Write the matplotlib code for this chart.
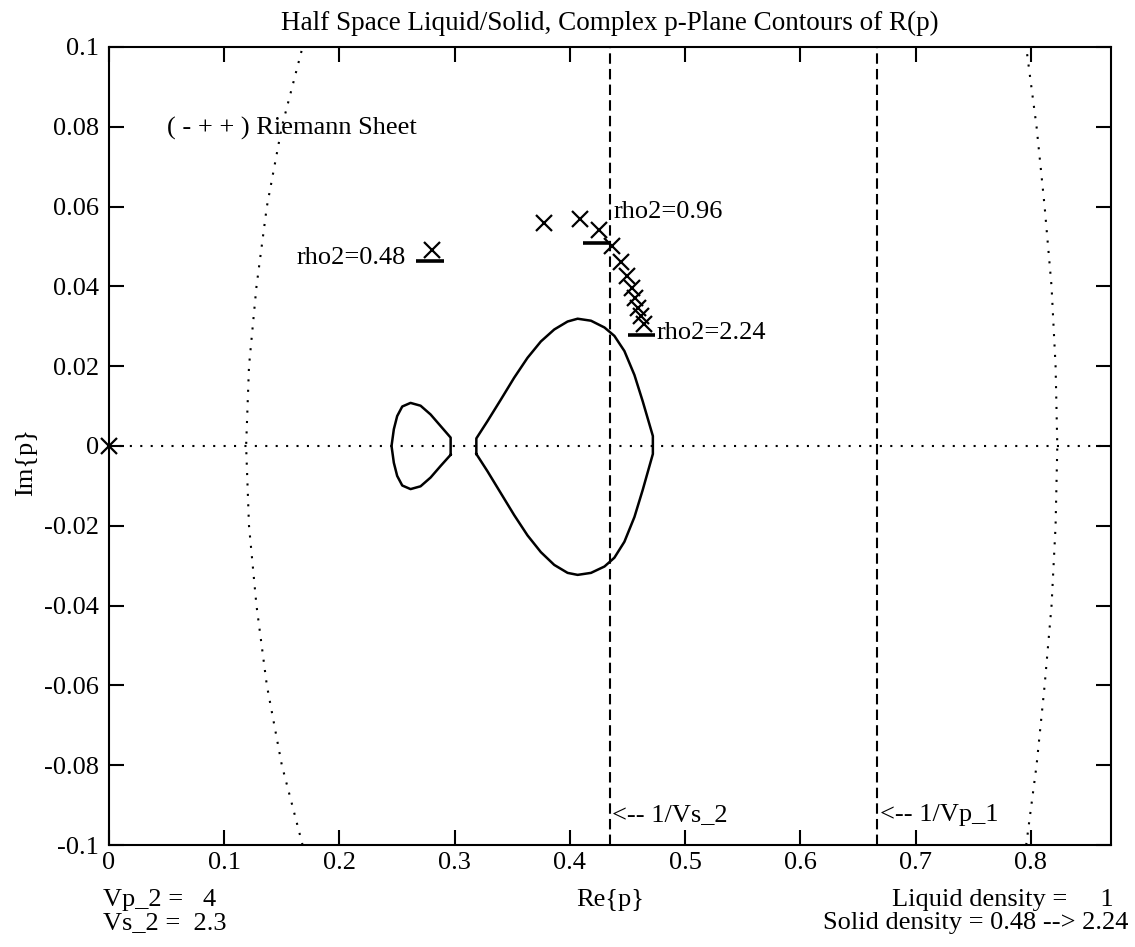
import matplotlib
matplotlib.use('Agg')
import matplotlib.pyplot as plt

# ---------------- data ----------------
xlim = [0.0, 0.8696]
ylim = [-0.1, 0.1]
xticks = [0, 0.1, 0.2, 0.3, 0.4, 0.5, 0.6, 0.7, 0.8]
xticklabels = ['0', '0.1', '0.2', '0.3', '0.4', '0.5', '0.6', '0.7', '0.8']
yticks = [-0.1, -0.08, -0.06, -0.04, -0.02, 0, 0.02, 0.04, 0.06, 0.08, 0.1]
yticklabels = ['-0.1', '-0.08', '-0.06', '-0.04', '-0.02', '0', '0.02', '0.04', '0.06', '0.08', '0.1']

inv_vs2 = 0.4348   # 1/Vs_2
inv_vp1 = 0.6667   # 1/Vp_1

# dotted branch-cut arcs
arc_y = [-0.1, -0.08, -0.06, -0.04, -0.02, 0.0, 0.02, 0.04, 0.06, 0.08, 0.1]
arc_left_x = [0.168, 0.150, 0.137, 0.128, 0.1215, 0.119, 0.1215, 0.128, 0.137, 0.150, 0.168]
arc_right_x = [0.796, 0.805, 0.812, 0.818, 0.8215, 0.823, 0.8215, 0.818, 0.812, 0.805, 0.796]

# small contour loop
small_x = [0.2965, 0.2965, 0.2878, 0.2791, 0.2704, 0.2617, 0.2545, 0.2501, 0.2472, 0.2452,
           0.2472, 0.2501, 0.2545, 0.2617, 0.2704, 0.2791, 0.2878, 0.2965]
small_y = [-0.0022, 0.0021, 0.0050, 0.0079, 0.0101, 0.0108, 0.0099, 0.0075, 0.0042, 0.0000,
           -0.0042, -0.0075, -0.0099, -0.0108, -0.0101, -0.0079, -0.0050, -0.0022]

# big contour loop
big_x = [0.3188, 0.3188, 0.3284, 0.3400, 0.3516, 0.3632, 0.3748, 0.3864, 0.3980, 0.4067,
         0.4183, 0.4300, 0.4386, 0.4473, 0.4560, 0.4632, 0.4720, 0.4720, 0.4632, 0.4560,
         0.4473, 0.4386, 0.4300, 0.4183, 0.4067, 0.3980, 0.3864, 0.3748, 0.3632, 0.3516,
         0.3400, 0.3284, 0.3188]
big_y = [-0.0020, 0.0019, 0.0062, 0.0116, 0.0171, 0.0221, 0.0262, 0.0292, 0.0312, 0.0319,
         0.0314, 0.0297, 0.0276, 0.0238, 0.0178, 0.0112, 0.0025, -0.0020, -0.0110, -0.0178,
         -0.0240, -0.0280, -0.0302, -0.0318, -0.0323, -0.0318, -0.0298, -0.0266, -0.0224,
         -0.0173, -0.0118, -0.0063, -0.0020]

# poles for rho2 = 0.48 ... 2.24
rho2 = [0.48, 0.64, 0.80, 0.96, 1.12, 1.28, 1.44, 1.60, 1.76, 1.92, 2.08, 2.24]
pole_x = [0.2800, 0.3771, 0.4087, 0.4255, 0.4362, 0.4440, 0.4496, 0.4535, 0.4568, 0.4595, 0.4620, 0.4645]
pole_y = [0.0491, 0.0558, 0.0569, 0.0541, 0.0500, 0.0462, 0.0426, 0.0396, 0.0370, 0.0347, 0.0326, 0.0306]

# underline bars of labelled poles
bar_x0 = [0.2664, 0.4110, 0.4500]
bar_x1 = [0.2904, 0.4343, 0.4740]
bar_y = [0.0464, 0.0510, 0.0278]

# ---------------- figure ----------------
plt.rcParams['font.family'] = ['Liberation Serif', 'DejaVu Serif']
plt.rcParams['font.size'] = 19
plt.rcParams['mathtext.default'] = 'regular'

W, H = 1135, 947
fig = plt.figure(figsize=(W / 100, H / 100), dpi=100)
ax = fig.add_axes([109 / W, 1 - 845 / H, (1111 - 109) / W, (845 - 47) / H])

ax.set_xlim(xlim)
ax.set_ylim(ylim)

dot = (0, (1, 4))
dash = (0, (5, 2.5))

# dotted axis and arcs
ax.plot([xlim[0], xlim[1]], [0, 0], color='black', lw=1.5, linestyle=dot)
ax.plot(arc_left_x, arc_y, color='black', lw=1.5, linestyle=dot)
ax.plot(arc_right_x, arc_y, color='black', lw=1.5, linestyle=dot)

# dashed velocity lines
ax.plot([inv_vs2, inv_vs2], ylim, color='black', lw=1.5, linestyle=dash)
ax.plot([inv_vp1, inv_vp1], ylim, color='black', lw=1.5, linestyle=dash)

# contours
ax.plot(small_x, small_y, color='black', lw=1.8)
ax.plot(big_x, big_y, color='black', lw=1.8)

# poles
ax.plot(pole_x, pole_y, linestyle='none', marker='x', color='black', markersize=12, mew=1.6)
ax.plot([0], [0], linestyle='none', marker='x', color='black', markersize=12, mew=1.6, clip_on=False)

for x0, x1, y in zip(bar_x0, bar_x1, bar_y):
    ax.plot([x0, x1], [y, y], color='black', lw=2.6, solid_capstyle='butt')

# annotations
ax.text(0.050, 0.0795, '( - + + ) Riemann Sheet', ha='left', va='center')
ax.text(0.2574, 0.0472, 'rho2=%.2f' % rho2[0], ha='right', va='center')
ax.text(0.4378, 0.0587, 'rho2=%.2f' % rho2[3], ha='left', va='center')
ax.text(0.4750, 0.0283, 'rho2=%.2f' % rho2[-1], ha='left', va='center')
ax.text(inv_vs2 + 0.002, -0.0925, '<-- 1/Vs_2', ha='left', va='center')
ax.text(inv_vp1 + 0.002, -0.0925, '<-- 1/Vp_1', ha='left', va='center')

# ticks
ax.set_xticks(xticks)
ax.set_xticklabels(xticklabels)
ax.set_yticks(yticks)
ax.set_yticklabels(yticklabels)
ax.tick_params(direction='in', length=11, width=1.5, top=True, right=True)
ax.tick_params(axis='x', pad=5)
ax.tick_params(axis='y', pad=7)
for s in ax.spines.values():
    s.set_linewidth(1.5)

ax.set_title('Half Space Liquid/Solid, Complex p-Plane Contours of R(p)', pad=12, fontsize=19.5)
ax.set_xlabel('Re{p}')
ax.xaxis.set_label_coords(0.5, -0.055)
ax.set_ylabel('Im{p}')
ax.yaxis.set_label_coords(-0.072, 0.48)

# footer texts
fig.text(103 / W, 1 - 900 / H, 'Vp_2 =   4', ha='left', va='center')
fig.text(103 / W, 1 - 923 / H, 'Vs_2 =  2.3', ha='left', va='center')
fig.text(1114 / W, 1 - 900 / H, 'Liquid density =     1', ha='right', va='center')
fig.text(1128 / W, 1 - 923 / H, 'Solid density = 0.48 --> 2.24', ha='right', va='center')

fig.savefig('out.png', dpi=100)
